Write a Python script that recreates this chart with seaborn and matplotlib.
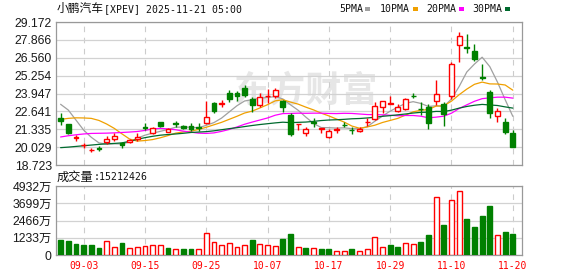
import numpy as np
import pandas as pd
import matplotlib
matplotlib.use("Agg")
import matplotlib.pyplot as plt
from matplotlib.patches import Rectangle
import seaborn as sns

# ---------------- data ----------------
dates = ["08-28", "08-29", "09-02", "09-03", "09-04", "09-05", "09-08", "09-09", "09-10", "09-11",
         "09-12", "09-15", "09-16", "09-17", "09-18", "09-19", "09-22", "09-23", "09-24", "09-25",
         "09-26", "09-29", "09-30", "10-01", "10-02", "10-03", "10-06", "10-07", "10-08", "10-09",
         "10-10", "10-13", "10-14", "10-15", "10-16", "10-17", "10-20", "10-21", "10-22", "10-23",
         "10-24", "10-27", "10-28", "10-29", "10-30", "10-31", "11-03", "11-04", "11-05", "11-06",
         "11-07", "11-10", "11-11", "11-12", "11-13", "11-14", "11-17", "11-18", "11-19", "11-20"]

opens = [22.18, 21.70, 20.70, 20.15, 19.80, 19.93, 20.42, 20.64, 20.30, 20.38,
         20.63, 21.52, 21.08, 21.87, 21.17, 21.80, 21.57, 21.56, 21.48, 21.78,
         23.25, 23.20, 23.96, 23.98, 24.33, 23.52, 23.14, 23.75, 23.80, 23.38,
         22.38, 21.70, 21.07, 21.83, 21.39, 20.80, 21.31, 21.67, 21.30, 21.24,
         21.86, 22.08, 22.94, 23.20, 22.70, 22.80, 23.80, 22.82, 22.98, 23.43,
         23.15, 23.80, 27.50, 27.35, 27.05, 25.16, 24.04, 22.30, 21.84, 21.08]
highs = [22.54, 21.75, 20.92, 20.35, 19.99, 20.08, 20.85, 21.05, 20.43, 20.62,
         21.05, 21.79, 21.52, 21.90, 21.45, 21.97, 21.66, 21.82, 21.82, 23.38,
         23.35, 23.45, 24.20, 24.13, 24.55, 23.67, 23.96, 24.25, 24.33, 23.47,
         22.50, 21.74, 21.52, 22.13, 21.43, 21.33, 21.52, 21.84, 21.52, 21.50,
         22.13, 23.30, 23.42, 23.80, 23.18, 23.60, 23.96, 23.30, 23.20, 24.93,
         23.30, 26.25, 28.42, 28.27, 27.60, 26.08, 24.20, 22.87, 22.18, 21.30]
lows = [21.62, 20.98, 20.50, 20.00, 19.66, 19.74, 20.27, 20.48, 19.98, 20.34,
        20.50, 21.28, 21.00, 21.52, 21.10, 21.48, 21.33, 21.22, 21.24, 21.70,
        22.50, 22.95, 23.35, 23.40, 23.72, 22.58, 22.98, 23.28, 23.62, 22.62,
        20.84, 21.28, 20.82, 21.52, 21.04, 20.72, 21.08, 21.48, 20.99, 21.10,
        21.57, 22.00, 22.50, 23.18, 22.60, 22.75, 23.60, 22.38, 21.38, 23.11,
        21.58, 23.55, 26.23, 26.88, 26.35, 24.93, 22.18, 21.89, 21.01, 20.05]
closes = [21.96, 21.04, 20.74, 20.19, 19.84, 19.90, 20.60, 20.82, 20.16, 20.58,
          20.80, 21.46, 21.40, 21.58, 21.37, 21.75, 21.45, 21.35, 21.43, 22.20,
          22.65, 23.26, 23.52, 23.78, 23.84, 23.13, 23.72, 23.80, 24.18, 22.97,
          21.00, 21.73, 21.34, 21.78, 21.41, 21.20, 21.35, 21.63, 21.26, 21.37,
          21.90, 23.03, 23.40, 23.23, 22.93, 23.55, 23.76, 22.78, 21.82, 23.88,
          22.45, 26.08, 28.12, 27.30, 26.50, 25.11, 22.50, 22.64, 21.16, 20.06]

ma5 = [23.16, 22.74, 22.01, 21.28, 20.75, 20.34, 20.25, 20.27, 20.26, 20.41,
       20.68, 20.90, 21.05, 21.18, 21.32, 21.48, 21.50, 21.48, 21.45, 21.62,
       21.82, 22.15, 22.60, 23.05, 23.40, 23.50, 23.60, 23.66, 23.72, 23.55,
       23.12, 22.72, 22.22, 21.76, 21.46, 21.45, 21.42, 21.44, 21.38, 21.37,
       21.52, 21.92, 22.30, 22.66, 22.95, 23.23, 23.35, 23.22, 23.00, 23.05,
       23.00, 23.55, 24.46, 25.52, 26.10, 26.60, 25.91, 24.78, 23.50, 22.28]
ma10 = [22.06, 22.13, 22.17, 22.16, 22.13, 21.98, 21.72, 21.40, 21.00, 20.62,
        20.47, 20.51, 20.58, 20.71, 20.87, 21.05, 21.14, 21.19, 21.32, 21.48,
        21.66, 21.84, 22.06, 22.28, 22.52, 22.66, 22.89, 23.13, 23.41, 23.49,
        23.32, 23.17, 22.95, 22.75, 22.51, 22.31, 22.08, 21.86, 21.57, 21.41,
        21.50, 21.63, 21.83, 21.98, 22.13, 22.37, 22.61, 22.72, 22.78, 23.03,
        23.05, 23.39, 23.86, 24.27, 24.62, 24.78, 24.65, 24.64, 24.57, 24.19]
ma20 = [20.77, 20.86, 20.93, 20.99, 21.03, 21.04, 21.05, 21.07, 21.10, 21.13,
        21.17, 21.25, 21.36, 21.40, 21.36, 21.30, 21.20, 21.12, 21.05, 21.03,
        21.07, 21.18, 21.32, 21.50, 21.70, 21.86, 22.01, 22.16, 22.36, 22.48,
        22.49, 22.51, 22.50, 22.51, 22.51, 22.49, 22.48, 22.50, 22.49, 22.45,
        22.41, 22.40, 22.39, 22.36, 22.32, 22.34, 22.34, 22.29, 22.17, 22.22,
        22.29, 22.51, 22.85, 23.12, 23.38, 23.57, 23.63, 23.68, 23.68, 23.61]
ma30 = [19.99, 20.03, 20.08, 20.13, 20.18, 20.23, 20.27, 20.30, 20.34, 20.45,
        20.60, 20.72, 20.82, 20.90, 20.95, 20.99, 21.04, 21.10, 21.13, 21.16,
        21.22, 21.30, 21.38, 21.45, 21.53, 21.61, 21.68, 21.74, 21.80, 21.85,
        21.82, 21.84, 21.86, 21.91, 21.97, 22.01, 22.03, 22.06, 22.10, 22.12,
        22.16, 22.21, 22.28, 22.33, 22.39, 22.45, 22.52, 22.57, 22.58, 22.64,
        22.63, 22.73, 22.88, 23.00, 23.09, 23.15, 23.11, 23.07, 22.97, 22.88]

# volume in 万 (10k shares)
volumes = [1072, 1000, 786, 715, 715, 500, 1000, 572, 858, 500,
           572, 643, 715, 715, 500, 429, 429, 429, 429, 1573,
           929, 715, 858, 572, 715, 1072, 786, 715, 643, 1144,
           1500, 548, 500, 500, 429, 429, 286, 286, 429, 286,
           429, 1287, 572, 715, 572, 858, 786, 929, 1430, 4146,
           2145, 3932, 4575, 2574, 2002, 2788, 3503, 1430, 1644, 1521]
# U = close above previous close (red hollow bar), D = below (green bar)
vol_dir = ("DDDDDDUUDU" "UUUUDUDDUU" "UUUUUDUUUD"
           "DUDUDDUUDU" "UUUDDUUDDU" "DUUDDDDUDD")

price_ticks = [18.723, 20.029, 21.335, 22.641, 23.947, 25.254, 26.560, 27.866, 29.172]
vol_ticks = [0, 1233, 2466, 3699, 4932]
vol_tick_labels = ["0", "1233万", "2466万", "3699万", "4932万"]
date_ticks = ["09-03", "09-15", "09-25", "10-07", "10-17", "10-29", "11-10", "11-20"]
ma_labels = ["5PMA", "10PMA", "20PMA", "30PMA"]
title_cn = "小鹏汽车"
title_rest = "[XPEV] 2025-11-21 05:00"
vol_title_cn = "成交量"
vol_title_rest = ":15212426"

# ---------------- style ----------------
RED = "#ff0000"
GREEN = "#008000"
MA_COLORS = ["#a0a0a0", "#f0a000", "#ff00ff", "#006a2e"]
GRID = "#d2d2d2"
FRAME = "#999999"

sns.set_theme(style="white")
plt.rcParams['font.family'] = ['Liberation Sans', 'Noto Sans CJK SC', 'DejaVu Sans']

W, H = 578, 276
fig = plt.figure(figsize=(W / 100, H / 100), dpi=100)
fig.patch.set_facecolor("white")


def rect(l, t, r, b):
    return [l / W, 1 - b / H, (r - l) / W, (b - t) / H]


def fx(px):
    return px / W


def fy(py):
    return 1 - py / H


ax = fig.add_axes(rect(56, 22, 522, 165))
axv = fig.add_axes(rect(56, 186, 522, 255))

n = len(dates)
idx = np.arange(n)
df = pd.DataFrame({"idx": idx, "open": opens, "high": highs, "low": lows, "close": closes,
                   "ma5": ma5, "ma10": ma10, "ma20": ma20, "ma30": ma30,
                   "vol": volumes, "dir": list(vol_dir)})
tick_pos = [dates.index(d) for d in date_ticks]

for a in (ax, axv):
    a.set_xlim(-0.6, 60.2)
    a.set_facecolor("white")
    for s in a.spines.values():
        s.set_color(FRAME)
        s.set_linewidth(0.9)
        s.set_visible(True)
    a.set_axisbelow(True)
    a.set_xticks(tick_pos)
    a.xaxis.grid(True, color="#cccccc", linewidth=0.8, linestyle=(0, (5, 5)))
    a.yaxis.grid(True, color=GRID, linewidth=0.9, linestyle="-")
    a.tick_params(axis="both", length=0, pad=3)

# ---------------- main price panel ----------------
ax.set_ylim(price_ticks[0], price_ticks[-1])
ax.set_yticks(price_ticks)
ax.set_yticklabels([f"{v:.3f}" for v in price_ticks], fontsize=8.8, color="#1a1a1a",
                   family="Liberation Sans")
ax.set_xticklabels([])

# watermark
ax.text(fx(306), fy(91), "东方财富", transform=fig.transFigure, ha="center", va="center",
        fontsize=26, fontweight="bold", color="#e6e6e6", family="Noto Sans CJK SC", zorder=0.1)

# moving averages (seaborn)
for col, c in zip(["ma5", "ma10", "ma20", "ma30"], MA_COLORS):
    sns.lineplot(data=df, x="idx", y=col, ax=ax, color=c, linewidth=0.9, legend=False, zorder=2)
ax.set_xlabel("")
ax.set_ylabel("")

# candles
o = df["open"].to_numpy()
c = df["close"].to_numpy()
up = c >= o
body_bot = np.minimum(o, c)
body_h = np.maximum(np.abs(c - o), 0.015)
wick_cols = [RED if u else GREEN for u in up]
ax.vlines(idx, df["low"], df["high"], colors=wick_cols, linewidth=1.0, zorder=3)
ax.bar(idx[up], body_h[up], bottom=body_bot[up], width=0.62, facecolor="white",
       edgecolor=RED, linewidth=1.0, zorder=4)
ax.bar(idx[~up], body_h[~up], bottom=body_bot[~up], width=0.62, facecolor=GREEN,
       edgecolor=GREEN, linewidth=1.0, zorder=4)

# ---------------- volume panel ----------------
vup = (df["dir"] == "U").to_numpy()
v = df["vol"].to_numpy()
axv.bar(idx[vup], v[vup], width=0.62, facecolor="white", edgecolor=RED, linewidth=1.0, zorder=3)
axv.bar(idx[~vup], v[~vup], width=0.62, facecolor=GREEN, edgecolor=GREEN, linewidth=1.0, zorder=3)
axv.set_ylim(vol_ticks[0], vol_ticks[-1])
axv.set_yticks(vol_ticks)
axv.set_yticklabels(vol_tick_labels, fontsize=8.8, color="#1a1a1a",
                    family=["Liberation Sans", "Noto Sans CJK SC"])
axv.set_xticklabels(date_ticks, fontsize=7.0, color=RED, family="DejaVu Sans Mono")
axv.tick_params(axis="x", pad=4)

# ---------------- header texts ----------------
fig.text(fx(57), fy(8.5), title_cn, ha="left", va="center", fontsize=8.5,
         family="Noto Sans CJK SC", color="#111111")
fig.text(fx(103.5), fy(8.8), title_rest, ha="left", va="center", fontsize=7.1,
         family="DejaVu Sans Mono", color="#111111")

legend_text_x = [339, 380, 426, 472]
legend_mark_x = [365, 413, 459, 505]
for lab, tx, mx, col in zip(ma_labels, legend_text_x, legend_mark_x, MA_COLORS):
    fig.text(fx(tx), fy(8.8), lab, ha="left", va="center", fontsize=7.1,
             family="DejaVu Sans Mono", color="#111111")
    fig.add_artist(Rectangle((fx(mx), fy(11)), 5 / W, 4 / H, transform=fig.transFigure,
                             facecolor=col, edgecolor="none"))

fig.text(fx(57), fy(177), vol_title_cn, ha="left", va="center", fontsize=8.8,
         family="Noto Sans CJK SC", color="#111111")
fig.text(fx(94), fy(177.3), vol_title_rest, ha="left", va="center", fontsize=7.1,
         family="DejaVu Sans Mono", color="#111111")

fig.savefig("out.png", dpi=100, facecolor="white")
